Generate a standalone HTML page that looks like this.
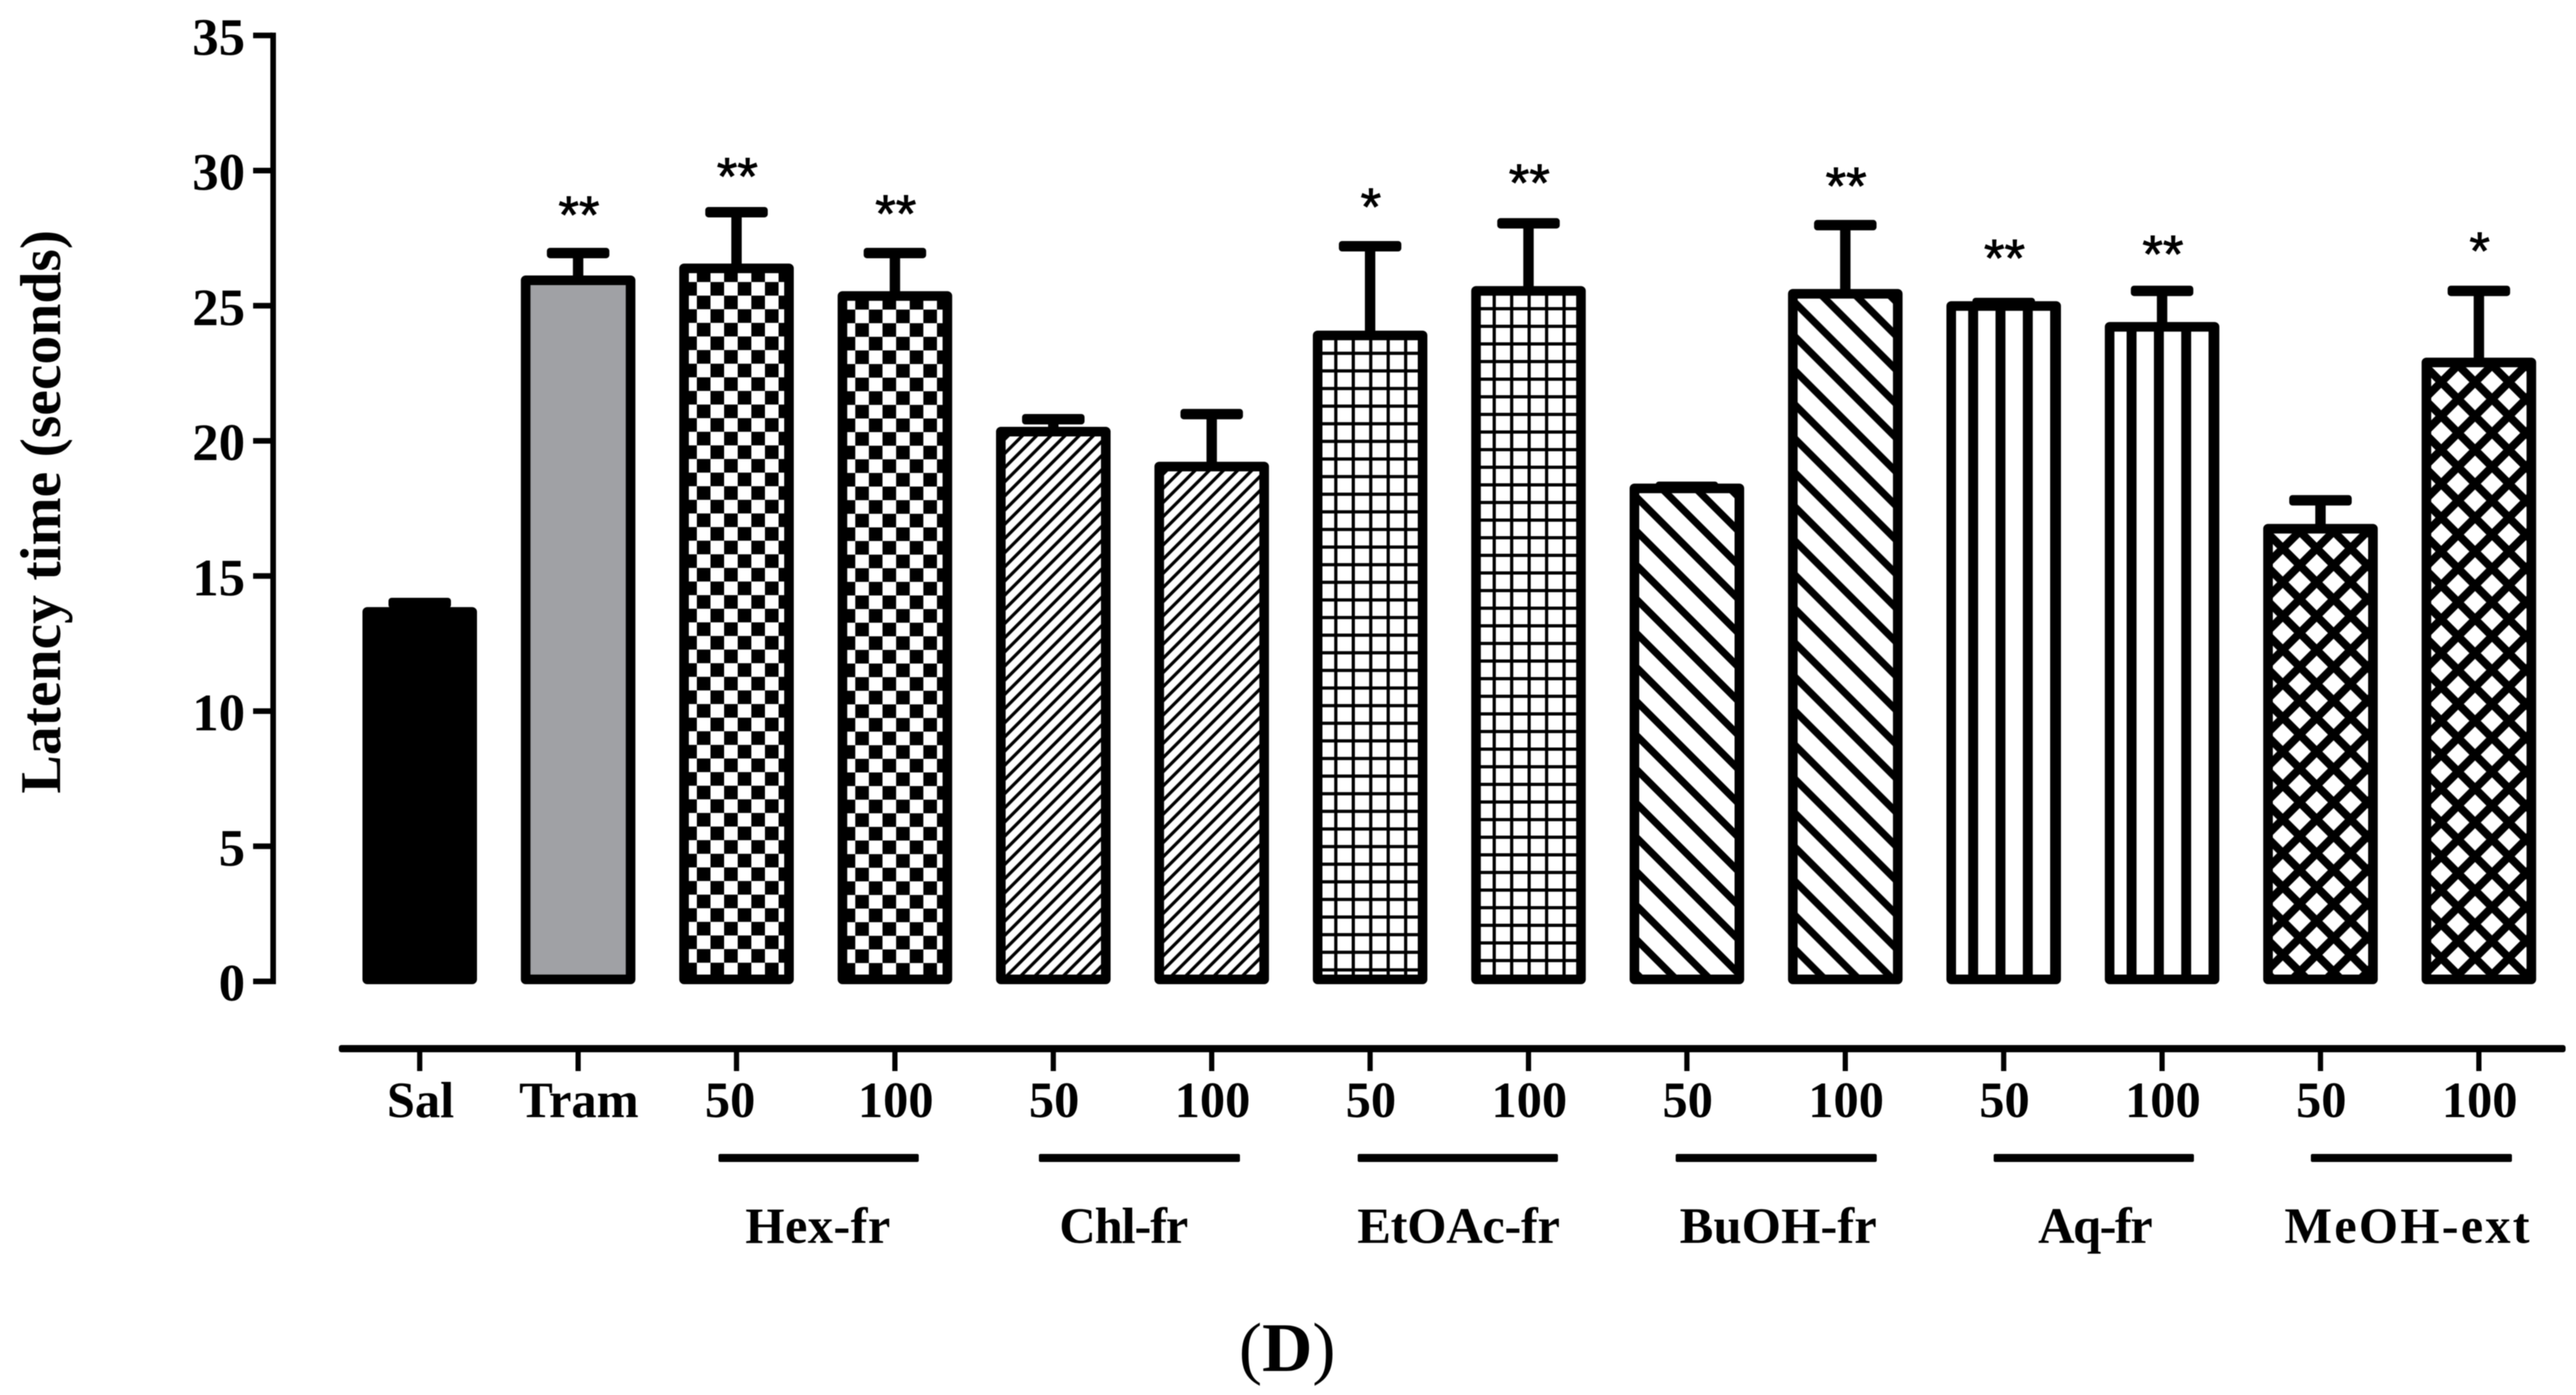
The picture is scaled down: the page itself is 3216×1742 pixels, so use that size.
<!DOCTYPE html>
<html lang="en">
<head>
<meta charset="utf-8">
<title>Latency time bar chart</title>
<style>
html,body{margin:0;padding:0;background:#fff;}
#chart{display:block;width:3216px;height:1742px;background:#fff;filter:blur(0.6px);}
text{font-family:"Liberation Serif",serif;font-weight:bold;fill:#000;}
</style>
</head>
<body>
<svg id="chart" xmlns="http://www.w3.org/2000/svg" width="3216" height="1742" viewBox="0 0 3216 1742">
  <defs>
    <pattern id="p-checker" patternUnits="userSpaceOnUse" x="5" y="23" width="34" height="34">
      <rect width="34" height="34" fill="#fff"/>
      <rect x="0" y="0" width="17" height="17" fill="#000"/>
      <rect x="17" y="17" width="17" height="17" fill="#000"/>
    </pattern>
    <pattern id="p-fine-diagonal" patternUnits="userSpaceOnUse" x="32" y="12" width="17.7" height="17.7">
      <rect width="17.7" height="17.7" fill="#fff"/>
      <path d="M-2,19.7L19.7,-2M-2,2L2,-2M15.7,19.7L19.7,15.7" stroke="#000" stroke-width="4" fill="none"/>
    </pattern>
    <pattern id="p-grid" patternUnits="userSpaceOnUse" x="26.7" y="26.3" width="21.8" height="22">
      <rect width="21.8" height="22" fill="#fff"/>
      <rect x="0" y="0" width="21.8" height="4" fill="#000"/>
      <rect x="0" y="0" width="4" height="22" fill="#000"/>
    </pattern>
    <pattern id="p-wide-diagonal" patternUnits="userSpaceOnUse" x="0" y="8.4" width="42.5" height="42.5">
      <rect width="42.5" height="42.5" fill="#fff"/>
      <path d="M-4,-4L46.5,46.5M38.5,-4L46.5,4M-4,38.5L4,46.5" stroke="#000" stroke-width="9" fill="none"/>
    </pattern>
    <pattern id="p-vertical" patternUnits="userSpaceOnUse" x="27.2" y="0" width="34.1" height="34">
      <rect width="34.1" height="34" fill="#fff"/>
      <rect x="0" y="0" width="12.4" height="34" fill="#000"/>
    </pattern>
    <pattern id="p-cross" patternUnits="userSpaceOnUse" x="3.3" y="51.7" width="42.3" height="42.3">
      <rect width="42.3" height="42.3" fill="#fff"/>
      <path d="M-4,-4L46.3,46.3M-4,46.3L46.3,-4" stroke="#000" stroke-width="10" fill="none"/>
    </pattern>
  </defs>

  <g id="y-axis"></g>
  <text transform="translate(75,991) rotate(-90)" font-size="72">Latency time (seconds)</text>
  <g id="bars"></g>
  <g id="x-axis">
    <rect x="423" y="1305" width="2780" height="9" rx="3" fill="#000"/>
  </g>

  <g fill="#000">
    <rect x="897" y="1441" width="250" height="10" rx="2"/>
    <rect x="1297" y="1441" width="251" height="10" rx="2"/>
    <rect x="1695" y="1441" width="250" height="10" rx="2"/>
    <rect x="2092" y="1441" width="251" height="10" rx="2"/>
    <rect x="2489" y="1441" width="250" height="10" rx="2"/>
    <rect x="2885" y="1441" width="251" height="10" rx="2"/>
  </g>
  <g font-size="63" text-anchor="middle">
    <text x="1021" y="1552" textLength="181">Hex-fr</text>
    <text x="1403" y="1552" textLength="161">Chl-fr</text>
    <text x="1821" y="1552" textLength="253">EtOAc-fr</text>
    <text x="2220" y="1552" textLength="246">BuOH-fr</text>
    <text x="2616" y="1552" textLength="143">Aq-fr</text>
    <text x="3005" y="1552" textLength="306">MeOH-ext</text>
  </g>
  <text x="1607" y="1712" font-size="87" text-anchor="middle"><tspan font-weight="normal">(</tspan>D<tspan font-weight="normal">)</tspan></text>
</svg>
<script>
const categories = ['Sal','Tram','50','100','50','100','50','100','50','100','50','100','50','100'];
const means = [13.67,25.94,26.38,25.36,20.34,19.05,23.90,25.55,18.24,25.44,24.99,24.22,16.75,22.90];
const upperErrors = [14.00,26.95,28.46,26.95,20.80,20.99,27.20,28.05,18.30,27.98,25.10,25.55,17.80,25.55];
const significance = ['','**','**','**','','','*','**','','**','**','**','','*'];
const significanceLevels = [null,28.87,30.30,28.92,null,null,29.17,30.06,null,29.94,27.27,27.42,null,27.54];
const fills = ['#000','#a0a1a5','url(#p-checker)','url(#p-checker)','url(#p-fine-diagonal)','url(#p-fine-diagonal)','url(#p-grid)','url(#p-grid)','url(#p-wide-diagonal)','url(#p-wide-diagonal)','url(#p-vertical)','url(#p-vertical)','url(#p-cross)','url(#p-cross)'];
const yTicks = [0,5,10,15,20,25,30,35];

const NS = 'http://www.w3.org/2000/svg';
function x(i){ return 524 + 197.75 * i; }
function y(v){ return 1225.5 - 33.75 * v; }
function make(tag, parent, attrs){
  const el = document.createElementNS(NS, tag);
  for (const k in attrs) el.setAttribute(k, attrs[k]);
  parent.appendChild(el);
  return el;
}

const yAxis = document.getElementById('y-axis');
const yLine = make('rect', yAxis, {x:337.5, y:y(35)-3.5, width:7, height:y(0)-y(35)+7, fill:'#000'});


yTicks.forEach(function(t){
  const tick = make('rect', yAxis, {x:316, y:y(t)-3.5, width:24, height:7, fill:'#000'});
  
  
  const label = make('text', yAxis, {x:306, y:y(t)+24, 'font-size':66, 'text-anchor':'end'});
  
  
  label.textContent = t;
});

const barsLayer = document.getElementById('bars');
means.forEach(function(m, i){
  const cx = x(i);
  const top = y(m);
  const capY = y(upperErrors[i]);

  const whisker = make('rect', barsLayer, {x:cx-6.5, y:capY, width:13, height:Math.max(top-capY,0), fill:'#000'});
  
  

  const cap = make('rect', barsLayer, {x:cx-39, y:capY-6.5, width:78, height:13, rx:4, fill:'#000'});
  
  

  const group = make('g', barsLayer, {transform:'translate(' + (cx-71.5) + ',' + (top-6) + ')'});
  
  

  const bar = make('rect', group, {x:6, y:6, width:131, height:y(0)-2.5-top, fill:fills[i], stroke:'#000', 'stroke-width':12, 'stroke-linejoin':'round'});
  
  

  if (significance[i]) {
    const star = make('text', barsLayer, {x:cx+1, y:y(significanceLevels[i])+40, 'font-size':66, 'text-anchor':'middle'});
    star.setAttribute('style', 'font-family:"Liberation Sans",sans-serif;font-weight:normal;stroke:#000;stroke-width:1');
    
    
    star.textContent = significance[i];
  }
});

const xAxis = document.getElementById('x-axis');
categories.forEach(function(c, i){
  const tick = make('rect', xAxis, {x:x(i)-3.25, y:1310, width:6.5, height:27.5, fill:'#000'});
  
  
  const label = make('text', xAxis, {x:x(i)+(i===2?-8:1), y:1395, 'font-size':63, 'text-anchor':'middle'});
  
  
  label.textContent = c;
});
</script>
</body>
</html>
